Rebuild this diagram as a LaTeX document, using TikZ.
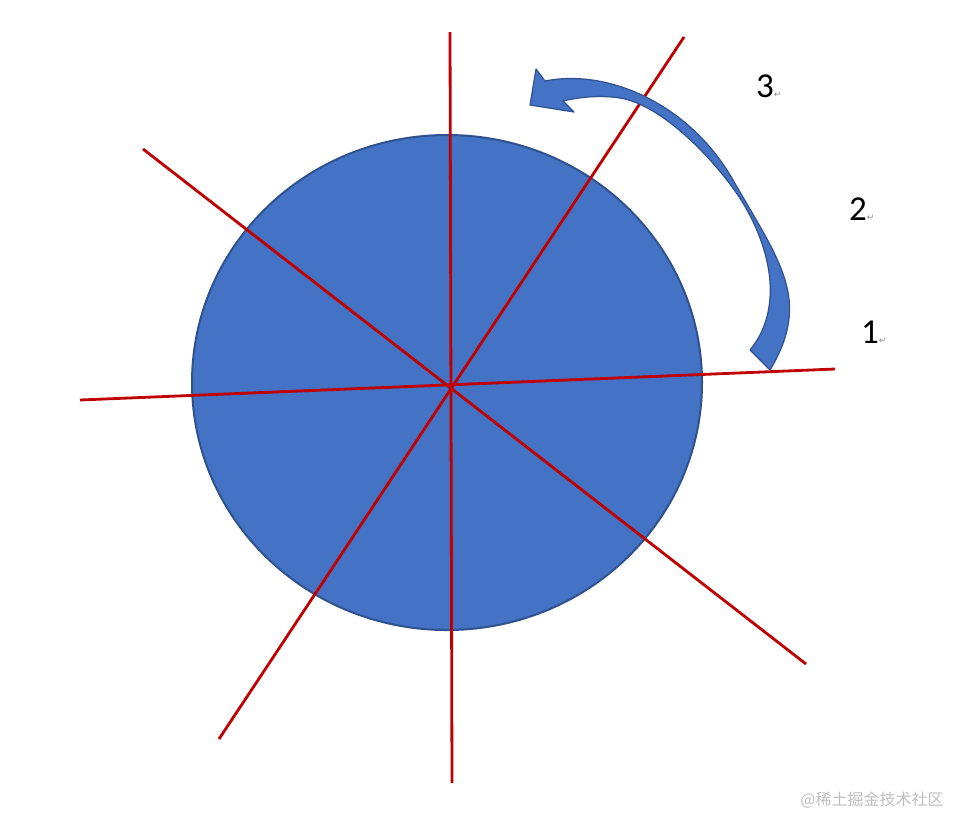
\documentclass[tikz,border=0pt]{standalone}
\usepackage{fontspec}
\usetikzlibrary{shapes.geometric}
\setmainfont{Carlito}
\newfontfamily\cjkfont{Noto Sans CJK SC}
\newfontfamily\symfont{DejaVu Sans}
\definecolor{discfill}{HTML}{4472C4}
\definecolor{discedge}{HTML}{2F528F}
\definecolor{axisred}{HTML}{C00000}
\definecolor{markgray}{HTML}{8C8C8C}
\tikzset{
  axisline/.style={draw=axisred, line width=2.8pt},
  numlabel/.style={anchor=base west, inner sep=0pt, font=\fontsize{35}{35}\selectfont},
}
\newcommand{\retmark}{{\symfont\fontsize{9}{9}\selectfont\color{markgray}↵}}
\begin{document}
\begin{tikzpicture}[x=1pt,y=-1pt]
\useasboundingbox (0,0) rectangle (960,815);
\fill[white] (0,0) rectangle (960,815);
% disc
\node[ellipse, draw=discedge, fill=discfill, line width=2pt, minimum width=510pt, minimum height=495pt, inner sep=0pt] (disc) at (447,382.5) {};
% centre
\coordinate (c) at (451,388);
% axis ends
\coordinate (vt) at (450,32);
\coordinate (vb) at (452,783);
\coordinate (hl) at (80,400);
\coordinate (hr) at (835,369);
\coordinate (d1a) at (143,149);
\coordinate (d1b) at (806,664);
\coordinate (d2a) at (684,37);
\coordinate (d2b) at (219,739);
\draw[axisline] (vt) -- (vb);
\draw[axisline] (hl) -- (hr);
\draw[axisline] (d1a) -- (d1b);
\draw[axisline] (d2a) -- (d2b);
% curved arrow
\filldraw[fill=discfill, draw=discedge, line width=1.2pt, line join=round]
  (545,81) .. controls (610,68) and (691,106) .. (733,180)
  .. controls (780,262) and (812,300) .. (770,370)
  -- (750,350)
  .. controls (775,320) and (780,270) .. (747,210)
  .. controls (725,170) and (665,105) .. (620,98)
  .. controls (600,95) and (580,97) .. (563,101)
  -- (574,112) -- (530,105) -- (536,69) -- cycle;
% labels
\node[numlabel] (l3) at (756,97) {3\retmark};
\node[numlabel] (l2) at (849,220) {2\retmark};
\node[numlabel] (l1) at (861,343) {1\retmark};
% watermark
\node[inner sep=0pt, text=black!25, font=\cjkfont\fontsize{16}{16}\selectfont] (wm) at (872,800) {@稀土掘金技术社区};
\end{tikzpicture}
\end{document}
